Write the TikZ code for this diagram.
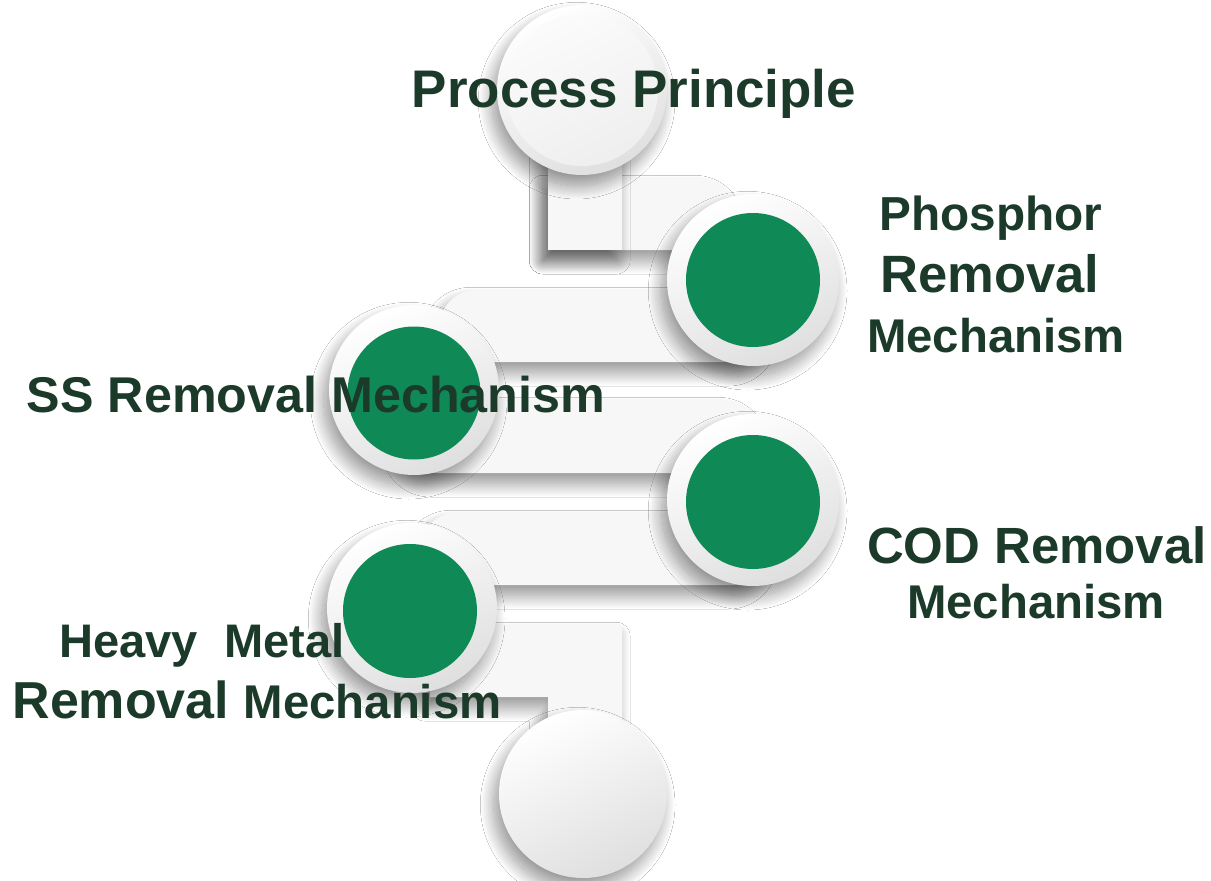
\documentclass[tikz,border=0pt]{standalone}
\usepackage{fontspec}
\setmainfont{Liberation Sans}
\usetikzlibrary{shadows.blur}
\definecolor{grn}{RGB}{15,137,86}
\definecolor{txt}{RGB}{28,58,42}
\definecolor{barc}{RGB}{247,247,247}
\begin{document}
\begin{tikzpicture}[x=0.75pt,y=-0.75pt,
  sh/.style={blur shadow={shadow xshift=-4pt, shadow yshift=-8pt, shadow blur radius=10pt, shadow blur steps=24, shadow opacity=42}},
  bar/.style={fill=barc, draw=none, sh},
  rim/.style={circle, minimum size={#1*0.75pt}, inner sep=0pt, draw=none,
    top color=white, bottom color=gray!25, shading angle=25, sh},
  plate/.style={circle, minimum size={#1*0.75pt}, inner sep=0pt, draw=none,
    top color=gray!3, bottom color=gray!13, shading angle=25},
  disk/.style={circle, minimum size={#1*0.75pt}, inner sep=0pt, draw=none, fill=grn},
  lab/.style={text=txt, font=\bfseries, anchor=base, inner sep=0pt},
  fs/.style={font=\bfseries\fontsize{#1}{#1}\selectfont}
]
\useasboundingbox (0,0) rectangle (1211,881);
\fill[white] (0,0) rectangle (1211,881);

% bars (connectors between the stages)
\path[bar] (548,178) -- (700,178) arc[start angle=-90,end angle=0,radius=36] -- (736,250) -- (548,250) -- cycle;
\path[bar, rounded corners=36*0.75pt] (440,290) rectangle (770,362);
\path[bar, rounded corners=36*0.75pt] (400,400) rectangle (760,473);
\path[bar, rounded corners=36*0.75pt] (420,513) rectangle (770,585);
\path[bar] (430,625) -- (622,625) -- (622,740) -- (548,740) -- (548,697) -- (430,697) -- cycle;
\path[bar] (548,150) rectangle (622,250);

% top and bottom plain circles
\node[rim=170] (top) at (582,90) {};
\node[plate=152] (topin) at (top) {};
\node[rim=168] (bot) at (583,794) {};

% green stages
\node[rim=172] (r1) at (753,280) {};
\node[disk=134] (g1) at (r1) {};
\node[rim=170] (r2) at (414,390) {};
\node[disk=133] (g2) at (414,393) {};
\node[rim=172] (r3) at (753,500) {};
\node[disk=134] (g3) at (753,502) {};
\node[rim=170] (r4) at (412,608) {};

% heavy metal label (over the rim, under the disk)
\node[lab, fs=35.3pt] (t5a) at (202,657) {Heavy\ \ Metal};
\node[disk=134] (g4) at (410,611) {};
\node[lab] (t5b) at (257,718) {\fontsize{39pt}{39pt}\selectfont Removal \fontsize{35.5pt}{35.5pt}\selectfont Mechanism};

% labels
\node[lab, fs=39.7pt] (t0) at (634,108) {Process Principle};
\node[lab, fs=35.8pt] (t1a) at (991,230) {Phosphor};
\node[lab, fs=39.4pt] (t1b) at (990,292) {Removal};
\node[lab, fs=35.5pt] (t1c) at (996,352) {Mechanism};
\node[lab, fs=37.7pt] (t2) at (316,412) {SS Removal Mechanism};
\node[lab, fs=38.2pt] (t3a) at (1037,563) {COD Removal};
\node[lab, fs=35.5pt] (t3b) at (1036,618) {Mechanism};
\end{tikzpicture}
\end{document}
